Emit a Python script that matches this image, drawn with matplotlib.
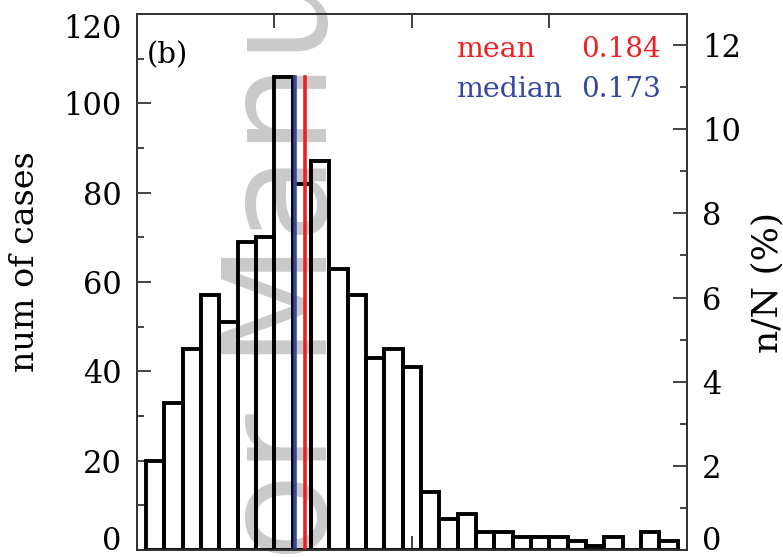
import numpy as np
import matplotlib
matplotlib.use("Agg")
import matplotlib.pyplot as plt

# ---- data ----
bin_start = 0.01
bin_width = 0.02
counts = [20, 33, 45, 57, 51, 69, 70, 106, 82, 87, 63, 57, 43, 45, 41,
          13, 7, 8, 4, 4, 3, 3, 3, 2, 1, 3, 0, 4, 2]
n_total = 942          # total number of cases (sets the n/N axis)
mean_val = 0.184
median_val = 0.173
left_ticks = [0, 20, 40, 60, 80, 100, 120]
right_ticks = [0, 2, 4, 6, 8, 10, 12]
x_ticks = [0.15, 0.30, 0.45]
x_range = [0.0, 0.6]

W, H = 783, 557
fig = plt.figure(figsize=(W / 100, H / 100), dpi=100)
fig.patch.set_facecolor("white")

ax_l, ax_r, ax_t, ax_b = 136.7, 686.7, 14, 550
ax = fig.add_axes([ax_l / W, 1 - ax_b / H, (ax_r - ax_l) / W, (ax_b - ax_t) / H])
ax.patch.set_facecolor("none")

serif = "DejaVu Serif"

# watermark (partially visible "Author Manuscript")
fig.text(327 / W, 1 - 561 / H, "or Manu", rotation=90,
         rotation_mode="anchor", ha="left", va="baseline",
         fontsize=104, family="DejaVu Sans", color="#cacaca", zorder=-5)

edges = bin_start + bin_width * np.arange(len(counts))
ax.bar(edges, counts, width=bin_width, align="edge", fill=False,
       edgecolor="black", linewidth=2.8, zorder=2)

top = max(counts)
ax.plot([median_val, median_val], [0, top], color="#3546a0", lw=2.6, zorder=3)
ax.plot([mean_val, mean_val], [0, top], color="#ee2024", lw=2.6, zorder=3)

ax.set_xlim(*x_range)
ax.set_ylim(0, 120)
ax.set_xticks(x_ticks)
ax.set_xticklabels([])
ax.set_yticks(left_ticks)
ax.set_yticks(np.arange(0, 121, 10), minor=True)
ax.tick_params(axis="both", which="both", direction="in", top=True, right=False,
               width=1.3, color="#333333")
ax.tick_params(axis="both", which="major", length=10)
ax.tick_params(axis="y", which="minor", length=5)
ax.tick_params(axis="y", labelsize=22, pad=11)
for lab in ax.get_yticklabels():
    lab.set_family(serif)
for s in ax.spines.values():
    s.set_linewidth(1.3)
    s.set_color("#333333")

ax2 = ax.twinx()
ax2.set_ylim(0, 120 / n_total * 100)
ax2.set_yticks(right_ticks)
ax2.set_yticks(np.arange(0, 13, 1), minor=True)
ax2.tick_params(axis="y", which="both", direction="in", width=1.3, color="#333333")
ax2.tick_params(axis="y", which="major", length=10, labelsize=22, pad=11)
ax2.tick_params(axis="y", which="minor", length=5)
for lab in ax2.get_yticklabels():
    lab.set_family(serif)
for s in ax2.spines.values():
    s.set_linewidth(1.3)
    s.set_color("#333333")

fig.canvas.draw()
ax.get_yticklabels()[0].set_va("baseline")
ax.get_yticklabels()[-1].set_va("top")
ax2.get_yticklabels()[0].set_va("baseline")

fig.text(25 / W, 1 - 262 / H, "num of cases", rotation=90, ha="center", va="center",
         fontsize=24, family=serif)
fig.text(767 / W, 1 - 282 / H, "n/N (%)", rotation=90, ha="center", va="center",
         fontsize=26, family=serif)

ax.text(0.0187, 0.9077, "(b)", transform=ax.transAxes, fontsize=21, family=serif,
        ha="left", va="baseline")
ax.text(0.5805, 0.9198, "mean", transform=ax.transAxes, fontsize=20.5, family=serif,
        color="#ee2024", ha="left", va="baseline")
ax.text(0.9533, 0.9198, f"{mean_val:.3f}", transform=ax.transAxes, fontsize=20,
        family=serif, color="#ee2024", ha="right", va="baseline")
ax.text(0.5805, 0.846, "median", transform=ax.transAxes, fontsize=20.5, family=serif,
        color="#3546a0", ha="left", va="baseline")
ax.text(0.9533, 0.846, f"{median_val:.3f}", transform=ax.transAxes, fontsize=20,
        family=serif, color="#3546a0", ha="right", va="baseline")

fig.savefig("out.png", dpi=100, facecolor="white")
